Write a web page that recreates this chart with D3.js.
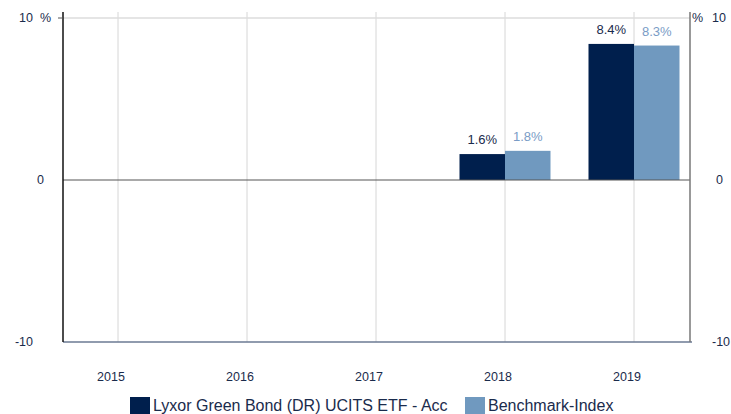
<!DOCTYPE html>
<html>
<head>
<meta charset="utf-8">
<script src="https://cdn.jsdelivr.net/npm/d3@7"></script>
<style>
  body { margin: 0; background: #fff; }
  svg { font-family: "Liberation Sans", Arial, sans-serif; }
</style>
</head>
<body>
<svg id="chart" width="731" height="414"></svg>
<script>
// Data
const years = ["2015", "2016", "2017", "2018", "2019"];
const fundValues = [null, null, null, 1.6, 8.4];
const benchValues = [null, null, null, 1.8, 8.3];
const seriesNames = ["Lyxor Green Bond (DR) UCITS ETF - Acc", "Benchmark-Index"];
const yTicks = [-10, 0, 10];

const svg = d3.select("#chart");
const textColor = "#1a2b4c";
const darkBlue = "#001f4d";
const lightBlue = "#7099bf";

const plot = { left: 63, right: 690, top: 18, bottom: 342 };

// Scales
const x = d3.scalePoint()
    .domain(years)
    .range([118, 634]);

const y = d3.scaleLinear()
    .domain([-10, 10])
    .range([plot.bottom, plot.top]);

const barW = 45.5;

// vertical grid lines
svg.append("g")
    .selectAll("line")
    .data(years)
    .enter()
    .append("line")
        .attr("x1", d => x(d))
        .attr("x2", d => x(d))
        .attr("y1", 12)
        .attr("y2", plot.bottom)
        .attr("stroke", "#d6d6d6")
        .attr("stroke-width", 1);

// top grid line
svg.append("line")
    .attr("x1", plot.left).attr("x2", plot.right)
    .attr("y1", y(10)).attr("y2", y(10))
    .attr("stroke", "#dcdcdc")
    .attr("stroke-width", 1.5);

// bars
const bars = svg.append("g");
years.forEach((yr, i) => {
    if (fundValues[i] != null) {
        bars.append("rect")
            .attr("x", x(yr) - barW)
            .attr("y", y(fundValues[i]))
            .attr("width", barW)
            .attr("height", y(0) - y(fundValues[i]))
            .attr("fill", darkBlue);
        bars.append("text")
            .attr("x", x(yr) - barW / 2)
            .attr("y", y(fundValues[i]) - 10)
            .attr("text-anchor", "middle")
            .attr("font-size", "13px")
            .attr("fill", textColor)
            .text(fundValues[i].toFixed(1) + "%");
    }
    if (benchValues[i] != null) {
        bars.append("rect")
            .attr("x", x(yr))
            .attr("y", y(benchValues[i]))
            .attr("width", barW)
            .attr("height", y(0) - y(benchValues[i]))
            .attr("fill", lightBlue);
        bars.append("text")
            .attr("x", x(yr) + barW / 2)
            .attr("y", y(benchValues[i]) - 10)
            .attr("text-anchor", "middle")
            .attr("font-size", "13px")
            .attr("fill", "#7a9cc6")
            .text(benchValues[i].toFixed(1) + "%");
    }
});

// zero line
svg.append("line")
    .attr("x1", plot.left).attr("x2", plot.right)
    .attr("y1", y(0)).attr("y2", y(0))
    .attr("stroke", "#555")
    .attr("stroke-width", 1);

// bottom axis line
svg.append("line")
    .attr("x1", plot.left).attr("x2", plot.right + 2)
    .attr("y1", plot.bottom).attr("y2", plot.bottom)
    .attr("stroke", "#6b7a93")
    .attr("stroke-width", 1.5);

// left axis
svg.append("line")
    .attr("x1", plot.left).attr("x2", plot.left)
    .attr("y1", 12).attr("y2", plot.bottom)
    .attr("stroke", "#111")
    .attr("stroke-width", 1.5);
svg.append("line")
    .attr("x1", plot.left - 5).attr("x2", plot.left)
    .attr("y1", y(10)).attr("y2", y(10))
    .attr("stroke", "#555");

// right axis
svg.append("line")
    .attr("x1", plot.right).attr("x2", plot.right)
    .attr("y1", 12).attr("y2", plot.bottom)
    .attr("stroke", "#777")
    .attr("stroke-width", 1.5);

// y tick labels
const tickLabels = svg.append("g").attr("font-size", "12.5px").attr("fill", textColor);
yTicks.forEach(t => {
    tickLabels.append("text")
        .attr("x", t === 0 ? 44 : 33)
        .attr("y", y(t) + 4)
        .attr("text-anchor", "end")
        .text(t);
    tickLabels.append("text")
        .attr("x", t === 0 ? 716 : 712)
        .attr("y", y(t) + 4)
        .attr("text-anchor", "start")
        .text(t);
});
tickLabels.append("text").attr("x", 40).attr("y", y(10) + 4).text("%");
tickLabels.append("text").attr("x", 692).attr("y", y(10) + 4).text("%");

// x tick labels
svg.append("g")
    .selectAll("text")
    .data(years)
    .enter()
    .append("text")
        .attr("x", d => x(d) - 7)
        .attr("y", 381)
        .attr("text-anchor", "middle")
        .attr("font-size", "12.5px")
        .attr("fill", textColor)
        .text(d => d);

// legend
const legend = svg.append("g");
const legendItems = [
    { name: seriesNames[0], color: darkBlue, x: 130 },
    { name: seriesNames[1], color: lightBlue, x: 465 }
];
legendItems.forEach(item => {
    legend.append("rect")
        .attr("x", item.x)
        .attr("y", 397)
        .attr("width", 20)
        .attr("height", 17)
        .attr("fill", item.color);
    legend.append("text")
        .attr("x", item.x + 23)
        .attr("y", 411)
        .attr("font-size", "16px")
        .attr("fill", textColor)
        .text(item.name);
});
</script>
</body>
</html>
